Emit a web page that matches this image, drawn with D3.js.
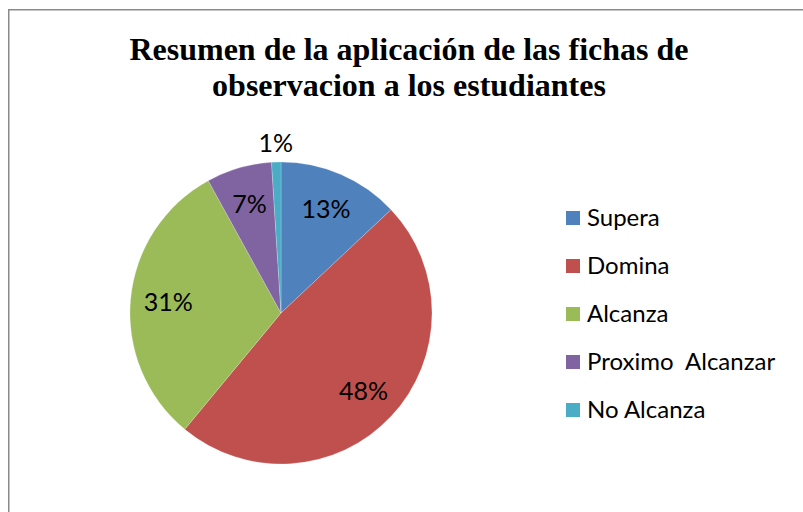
<!DOCTYPE html>
<html>
<head>
<meta charset="utf-8">
<script src="https://cdn.jsdelivr.net/npm/d3@7"></script>
<style>
  html, body { margin: 0; padding: 0; background: #fff; }
  svg { display: block; }
</style>
</head>
<body>
<svg id="chart" width="803" height="512"></svg>
<script>
const titleLines = ["Resumen de la aplicación de las fichas de", "observacion a los estudiantes"];
const categories = ["Supera", "Domina", "Alcanza", "Proximo  Alcanzar", "No Alcanza"];
const values = [13, 48, 31, 7, 1];
const colors = ["#4F81BD", "#C0504D", "#9BBB59", "#8064A2", "#4BACC6"];

const svg = d3.select("#chart");
const W = 803, H = 512;

// outer frame
svg.append("rect")
  .attr("x", 8.75).attr("y", 9.75)
  .attr("width", 900).attr("height", 600)
  .attr("fill", "#fff").attr("stroke", "#8a8a8a").attr("stroke-width", 1.5);

// title
const title = svg.append("text")
  .attr("text-anchor", "middle")
  .attr("font-family", "'Liberation Serif', 'Times New Roman', serif")
  .attr("font-weight", "bold")
  .attr("font-size", 32)
  .attr("fill", "#000");
titleLines.forEach((t, i) => {
  title.append("tspan").attr("x", 409).attr("y", 60 + i * 36).text(t);
});

// pie
const cx = 281, cy = 313, R = 151;
const total = d3.sum(values);
const pie = d3.pie().sort(null).value(d => d)(values);
const arc = d3.arc().innerRadius(0).outerRadius(R);
const g = svg.append("g").attr("transform", `translate(${cx},${cy})`);
g.selectAll("path.slice").data(pie).join("path")
  .attr("class", "slice")
  .attr("d", arc)
  .attr("fill", (d, i) => colors[i])
  .attr("stroke", "rgba(255,255,255,0.35)")
  .attr("stroke-width", 0.6);

const fmt = v => Math.round(v / total * 100) + "%";
const inArc = d3.arc().innerRadius(0.75 * R).outerRadius(0.75 * R);
const outArc = d3.arc().innerRadius(R + 19).outerRadius(R + 19);
g.selectAll("text.lbl").data(pie).join("text")
  .attr("class", "lbl")
  .attr("transform", d => {
    const c = (d.value / total < 0.03 ? outArc : inArc).centroid(d);
    return `translate(${c[0]},${c[1]})`;
  })
  .attr("text-anchor", "middle")
  .attr("dy", "0.36em")
  .attr("font-family", "Lato, 'Open Sans', sans-serif")
  .attr("font-size", 25)
  .attr("fill", "#000")
  .text(d => fmt(d.value));

// legend
const legend = svg.append("g");
const ly = d3.scalePoint().domain(categories).range([218, 410]);
const items = legend.selectAll("g").data(categories).join("g")
  .attr("transform", d => `translate(566,${ly(d)})`);
items.append("rect")
  .attr("x", 0).attr("y", -7).attr("width", 14).attr("height", 14)
  .attr("fill", (d, i) => colors[i]);
items.append("text")
  .attr("x", 21).attr("y", 7.5)
  .attr("font-family", "Lato, 'Open Sans', sans-serif")
  .attr("font-size", 24)
  .attr("fill", "#000")
  .attr("xml:space", "preserve")
  .style("white-space", "pre")
  .text(d => d);
</script>
</body>
</html>
